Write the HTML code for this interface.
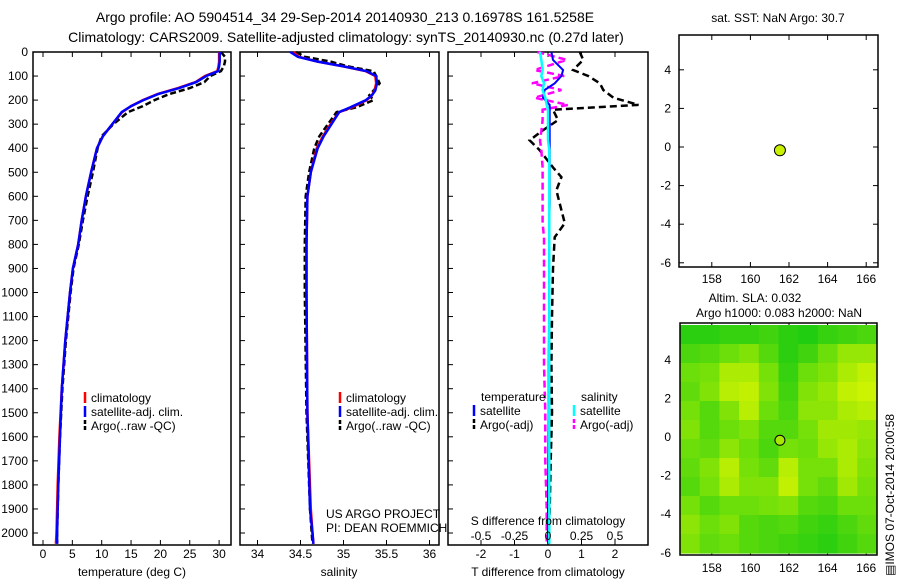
<!DOCTYPE html>
<html><head><meta charset="utf-8"><style>
body{margin:0;background:#fff}
svg{display:block;font-family:"Liberation Sans",sans-serif}
text{font-size:12px;fill:#000}
</style></head><body>
<svg id="chart" width="900" height="580" viewBox="0 0 900 580" xmlns="http://www.w3.org/2000/svg">
<text x="345" y="22" text-anchor="middle" style="font-size:14px">Argo profile: AO 5904514_34 29-Sep-2014 20140930_213 0.16978S 161.5258E</text>
<text x="346" y="42" text-anchor="middle" style="font-size:14px">Climatology: CARS2009. Satellite-adjusted climatology: synTS_20140930.nc (0.27d later)</text>
<g id="g"></g>
</svg>
<script>
// ---- data ----
const depthT = [0,20,40,60,80,100,125,150,175,200,225,250,300,350,400,500,600,700,800,900,1000,1200,1400,1600,1800,2000,2045];
const climT  = [30,30,30,29.9,29.7,27.6,26,23,19.5,17,15,13.5,11.8,10.2,9.2,8.2,7.3,6.6,6.0,5.1,4.6,3.8,3.2,2.8,2.5,2.3,2.2];
const satT   = [30.1,30.1,30.1,30,29.8,27.8,26.1,23.2,19.6,17.1,15,13.4,11.8,10.2,9.2,8.2,7.3,6.6,6.0,5.1,4.6,3.8,3.2,2.9,2.6,2.4,2.4];
const argoT  = [30.3,31,31,30.8,30.3,28.5,27.5,25,21.5,19,17,14.5,12,10,9.3,8.5,7.6,6.8,6.1,5.2,4.7,3.9,3.3,2.9,2.6,2.4,2.4];
const depthS = [0,20,40,60,80,100,130,160,180,200,230,250,300,350,400,500,550,600,800,1000,1500,1900,2000,2045];
const climS  = [34.42,34.48,34.7,35.0,35.26,35.37,35.38,35.36,35.33,35.27,35.1,34.95,34.85,34.76,34.69,34.62,34.6,34.58,34.57,34.57,34.58,34.62,34.64,34.65];
const satS   = [34.38,34.47,34.7,35.0,35.27,35.38,35.39,35.37,35.33,35.26,35.08,34.95,34.86,34.77,34.7,34.62,34.6,34.58,34.57,34.57,34.58,34.61,34.64,34.65];
const argoS  = [34.45,34.55,34.85,35.05,35.35,35.38,35.42,35.35,35.3,35.35,35.15,34.92,34.82,34.72,34.66,34.6,34.58,34.56,34.55,34.55,34.57,34.61,34.63,34.64];
const depthD = [0,33,75,100,130,158,190,220,240,283,330,367,408,480,520,575,630,712,770,900,1100,1300,1500,1700,1900,2045];
const dTargo = [0.95,1.05,0.75,1.2,1.55,1.65,1.95,2.7,0.15,0.3,-0.2,-0.55,-0.25,0.15,0.4,0.25,0.35,0.5,0.2,0.15,0.12,0.1,0.12,0.08,0.05,0.02];
const dTsat  = [0.1,0.15,0.45,0.4,0.2,-0.1,-0.15,0.05,0.05,0.05,0.05,0.05,0.05,0.05,0.05,0.05,0.05,0.04,0.04,0.03,0.03,0.02,0.02,0.01,0,0];
const dSargo = [-0.08,0.14,-0.1,0.12,-0.12,0.1,-0.1,0.15,-0.04,-0.04,-0.05,-0.06,-0.05,-0.04,-0.04,-0.04,-0.04,-0.04,-0.03,-0.03,-0.03,-0.03,-0.02,-0.02,-0.01,-0.01];
const dSsat  = [-0.06,-0.05,-0.04,-0.05,-0.03,-0.04,-0.02,-0.01,0,0,0,0,0.01,0.01,0.01,0.01,0.01,0.01,0.01,0.01,0.01,0.01,0.01,0.01,0.01,0.01];
const depthTicks = [0,100,200,300,400,500,600,700,800,900,1000,1100,1200,1300,1400,1500,1600,1700,1800,1900,2000];
const tTicks = [0,5,10,15,20,25,30];
const sTicks = [34,34.5,35,35.5,36];
const dTTicks = [-2,-1,0,1,2];
const dSTicks = [-0.5,-0.25,0,0.25,0.5];
const lonTicks = [158,160,162,164,166];
const latTicks = [4,2,0,-2,-4,-6];
const argoLon = 161.53, argoLat = -0.17;
const slaGrid = [
[0.1,0.1,0.15,0.15,0.2,0.1,0.05,0.15,0.2,0.25],
[0.25,0.3,0.4,0.5,0.3,0.1,0.2,0.4,0.6,0.6],
[0.4,0.45,0.7,0.7,0.45,0.15,0.4,0.5,0.7,0.8],
[0.35,0.5,0.75,0.8,0.5,0.2,0.5,0.6,0.8,0.85],
[0.45,0.3,0.5,0.75,0.4,0.25,0.55,0.55,0.7,0.75],
[0.5,0.3,0.4,0.5,0.3,0.3,0.45,0.65,0.65,0.6],
[0.4,0.35,0.55,0.4,0.25,0.45,0.4,0.6,0.7,0.55],
[0.35,0.5,0.75,0.45,0.35,0.75,0.45,0.45,0.7,0.5],
[0.3,0.45,0.7,0.5,0.5,0.8,0.45,0.35,0.65,0.45],
[0.45,0.3,0.4,0.4,0.45,0.5,0.3,0.25,0.4,0.4],
[0.55,0.4,0.5,0.3,0.25,0.3,0.2,0.15,0.25,0.35],
[0.5,0.35,0.4,0.3,0.25,0.2,0.15,0.1,0.2,0.3]];

// ---- scales ----
const yD = d => 52 + d*0.2405;
const xT = t => 43 + t*5.87;
const xS = s => 257.5 + (s-34)*86;
const xDT = t => 548 + t*33.5;
const xDS = s => 548 + s*134;
const lonX = l => 789 + (l-162)*19.3;
const latY = a => 147 - a*19.3;
const latY2 = a => 437 - a*19.3;

const NS="http://www.w3.org/2000/svg";
const g=document.getElementById('g');
function mk(tag,attrs,parent){const e=document.createElementNS(NS,tag);for(const k in attrs)e.setAttribute(k,attrs[k]);(parent||g).appendChild(e);return e;}
function txt(x,y,s,anchor,parent){const e=mk('text',{x:x,y:y,'text-anchor':anchor||'start'},parent);e.textContent=s;return e;}
function line(xs,ys,color,dash,w){
  let d='';for(let i=0;i<xs.length;i++)d+=(i?'L':'M')+xs[i].toFixed(1)+' '+ys[i].toFixed(1);
  const p=mk('path',{d:d,fill:'none',stroke:color,'stroke-width':w||2});
  if(dash)p.setAttribute('stroke-dasharray',dash);
  return p;
}
function frame(x0,x1,y0,y1,name){
  const r=mk('rect',{x:x0,y:y0,width:x1-x0,height:y1-y0,fill:'none',stroke:'#000','stroke-width':1.5});
  
  
}
function xticks(vals,fx,y0,y1,labY,lab){
  vals.forEach(v=>{const x=fx(v);
    mk('line',{x1:x,x2:x,y1:y1,y2:y1-5,stroke:'#000'});
    mk('line',{x1:x,x2:x,y1:y0,y2:y0+5,stroke:'#000'});
    if(lab){const t=txt(x,labY,String(v),'middle');
      
      }
  });
}

// Panel 1 temperature
frame(33,231,52,545,'temperature-panel');
depthTicks.forEach(d=>{const y=yD(d);
  mk('line',{x1:33,x2:38,y1:y,y2:y,stroke:'#000'});
  const t=txt(28,y+4,String(d),'end');
  
  
  [240,448].forEach(x0=>mk('line',{x1:x0,x2:x0+5,y1:y,y2:y,stroke:'#000'}));
});
xticks(tTicks,xT,52,545,558,true);
let p;
p=line(argoT.map(xT),depthT.map(yD),'#000','6,3',2.5);
p=line(climT.map(xT),depthT.map(yD),'#f00',null,2.5);
p=line(satT.map(xT),depthT.map(yD),'#00f',null,2.5);
let t=txt(132,576,'temperature (deg C)','middle');

function legend(x,y,items){
  items.forEach((it,i)=>{const yy=y+i*14;
    const b=mk('line',{x1:x,x2:x,y1:yy-10,y2:yy+1,stroke:it[0],'stroke-width':2.5});
    if(it[2])b.setAttribute('stroke-dasharray',it[2]);
    const tt=txt(x+6,yy,it[1]);
    
    
  });
}
legend(85,402,[['#f00','climatology'],['#00f','satellite-adj. clim.'],['#000','Argo(..raw -QC)','4,2']]);

// Panel 2 salinity
frame(240,439,52,545,'salinity-panel');
xticks(sTicks,xS,52,545,558,true);
p=line(argoS.map(xS),depthS.map(yD),'#000','6,3',2.5);
p=line(climS.map(xS),depthS.map(yD),'#f00',null,2.5);
p=line(satS.map(xS),depthS.map(yD),'#00f',null,2.5);
t=txt(339,576,'salinity','middle');
legend(340,402,[['#f00','climatology'],['#00f','satellite-adj. clim.'],['#000','Argo(..raw -QC)','4,2']]);
t=txt(326,518,'US ARGO PROJECT');
t=txt(326,532,'PI: DEAN ROEMMICH');

// Panel 3 differences
frame(448,648,52,545,'difference-panel');
xticks(dTTicks,xDT,52,545,558,true);
p=line(dTargo.map(xDT),depthD.map(yD),'#000','7,4',2.5);
p=line(dSargo.map(xDS),depthD.map(yD),'#f0f','7,4',2.5);
p=line(dTsat.map(xDT),depthD.map(yD),'#00f',null,2);
p=line(dSsat.map(xDS),depthD.map(yD),'#0ff',null,2.5);
dSTicks.forEach(v=>{const tt=txt(xDS(v),540,String(v),'middle');
  
  });
t=txt(548,525,'S difference from climatology','middle');
t=txt(548,576,'T difference from climatology','middle');
t=txt(481,401,'temperature');
t=txt(581,401,'salinity');
legend(474,415,[['#00f','satellite'],['#000','Argo(-adj)','4,2']]);
legend(574,415,[['#0ff','satellite'],['#f0f','Argo(-adj)','4,2']]);

// Map 1 SST
frame(679,878,35,267,'sst-map-panel');
lonTicks.forEach(l=>{const x=lonX(l);
  mk('line',{x1:x,x2:x,y1:267,y2:262,stroke:'#000'});mk('line',{x1:x,x2:x,y1:35,y2:40,stroke:'#000'});
  const tt=txt(x,283,String(l),'middle');
  mk('line',{x1:x,x2:x,y1:555,y2:550,stroke:'#000'});mk('line',{x1:x,x2:x,y1:323,y2:328,stroke:'#000'});
  const t2=txt(x,572,String(l),'middle');
});
latTicks.forEach(a=>{const y=latY(a);
  mk('line',{x1:679,x2:684,y1:y,y2:y,stroke:'#000'});mk('line',{x1:878,x2:873,y1:y,y2:y,stroke:'#000'});
  const tt=txt(671,y+4,String(a),'end');
  const y2=latY2(a);
  mk('line',{x1:680,x2:685,y1:y2,y2:y2,stroke:'#000'});mk('line',{x1:877,x2:872,y1:y2,y2:y2,stroke:'#000'});
  const t2=txt(671,y2+4,String(a),'end');
});
let c=mk('circle',{cx:lonX(argoLon),cy:latY(argoLat),r:5.5,fill:'#c8f000',stroke:'#000','stroke-width':1});

t=txt(778,22,'sat. SST: NaN Argo: 30.7','middle');
t=txt(755,302,'Altim. SLA: 0.032','middle');
t=txt(779,317,'Argo h1000: 0.083 h2000: NaN','middle');

// Map 2 SLA
const mg=mk('g',{});


const rows=slaGrid.length, cols=slaGrid[0].length, mx0=680, mx1=877, my0=325, my1=553;
const cw=(mx1-mx0)/cols, ch=(my1-my0)/rows;
slaGrid.forEach((row,r)=>row.forEach((v0,ci)=>{
  const v=Math.min(1,v0+0.1);
  const R=Math.round(215*v), G=Math.round(198+47*v), B=Math.round(20*(1-v));
  const cell=mk('rect',{x:mx0+ci*cw,y:my0+r*ch,width:cw+0.6,height:ch+0.6,fill:`rgb(${R},${G},${B})`},mg);
  
  
}));
frame(680,877,323,555,'sla-map-panel');
c=mk('circle',{cx:lonX(argoLon),cy:latY2(argoLat),r:5,fill:'#a8e800',stroke:'#000','stroke-width':1});

t=mk('text',{x:894,y:576,transform:'rotate(-90 894 576)'});t.textContent='\u25A4IMOS 07-Oct-2014 20:00:58';

</script>
</body></html>
